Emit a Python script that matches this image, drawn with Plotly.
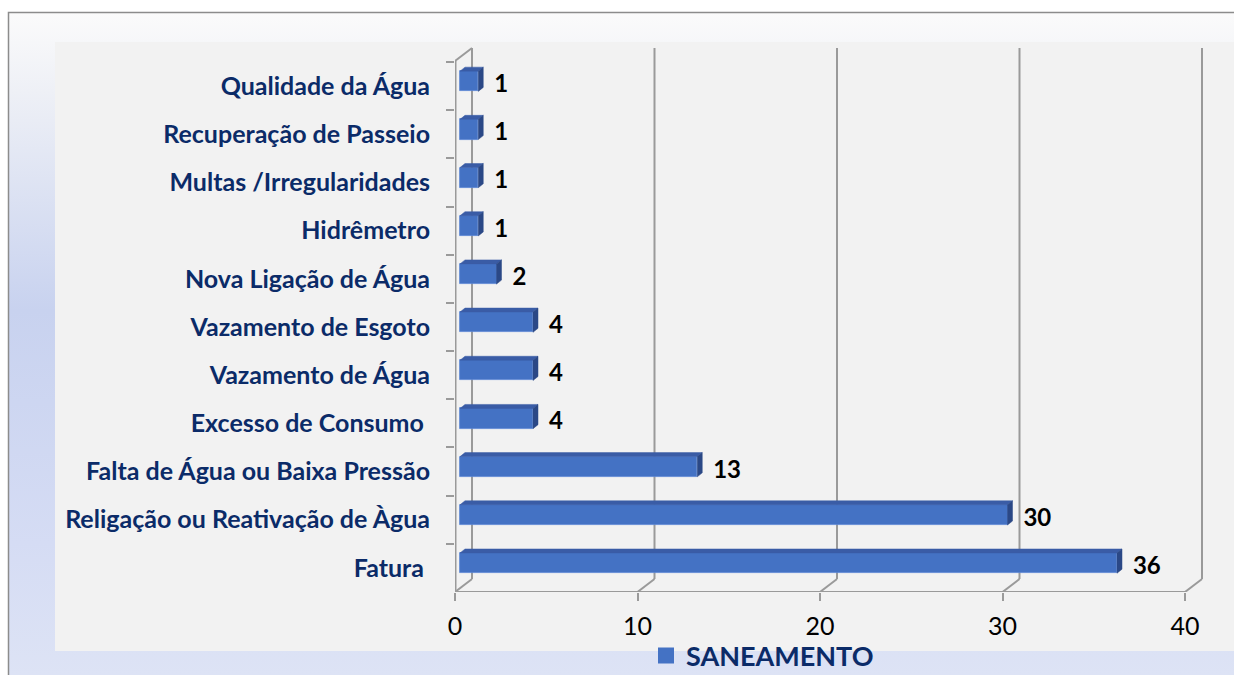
import base64
import plotly.graph_objects as go

# ---- data (top to bottom as in the chart) ----
categories = [
    "Qualidade da Água",
    "Recuperação de Passeio",
    "Multas /Irregularidades",
    "Hidrêmetro",
    "Nova Ligação de Água",
    "Vazamento de Esgoto",
    "Vazamento de Água",
    "Excesso de Consumo\u00a0",
    "Falta de Água ou Baixa Pressão",
    "Religação ou Reativação de Àgua",
    "Fatura\u00a0",
]
values = [1, 1, 1, 1, 2, 4, 4, 4, 13, 30, 36]
series_name = "SANEAMENTO"
x_ticks = [0, 10, 20, 30, 40]

# ---- layout geometry ----
W, H = 1234, 675
ML, MR, MT, MB = 455, 22, 40, 83
PW, PH = W - ML - MR, H - MT - MB
X_RANGE = [0, PW / 18.25]
CAT_PX = 530 / len(categories)
Y_RANGE = [len(categories) - 0.5, -0.5 - 22 / CAT_PX]

# 3D depth of the walls (data units)
DX = 17 / 18.25
DY = 13 / CAT_PX
# bar geometry
BASE = 5 / 18.25
BAR_W = 0.42
BAR_C = -0.1
BDX = 5 / 18.25
BDY = 4 / CAT_PX

NAVY = "#0b2b68"
BLUE = "#4472c4"
TOP = "#3a5ca6"
SIDE = "#2b4886"
GRID = "#9a9a9a"
FONT = "Lato"

fig = go.Figure()

# front faces of bars
fig.add_trace(go.Bar(
    y=categories, x=values, base=BASE, orientation="h",
    offset=BAR_C - BAR_W / 2, width=BAR_W,
    marker=dict(color=BLUE, line=dict(color="#5a86d4", width=0.8)),
    showlegend=False, hoverinfo="skip",
))

# top and side faces (numeric overlay axis y2)
tx, ty, sx, sy = [], [], [], []
for i, v in enumerate(values):
    yc = i + BAR_C
    yt, yb = yc - BAR_W / 2, yc + BAR_W / 2
    x0, x1 = BASE, BASE + v
    tx += [x0, x1, x1 + BDX, x0 + BDX, x0, None]
    ty += [yt, yt, yt - BDY, yt - BDY, yt, None]
    sx += [x1, x1, x1 + BDX, x1 + BDX, x1, None]
    sy += [yt, yb, yb - BDY, yt - BDY, yt, None]
fig.add_trace(go.Scatter(x=tx, y=ty, yaxis="y2", mode="lines", fill="toself",
                         fillcolor=TOP, line=dict(width=0.5, color=TOP),
                         showlegend=False, hoverinfo="skip"))
fig.add_trace(go.Scatter(x=sx, y=sy, yaxis="y2", mode="lines", fill="toself",
                         fillcolor=SIDE, line=dict(width=0.5, color=SIDE),
                         showlegend=False, hoverinfo="skip"))

# data labels
fig.add_trace(go.Scatter(
    x=[BASE + v + BDX + 0.6 for v in values],
    y=[i + BAR_C + 0.1 for i in range(len(values))],
    yaxis="y2", mode="text", text=[str(v) for v in values],
    textposition="middle right",
    textfont=dict(family=FONT, size=24, color="black", weight="bold"),
    showlegend=False, hoverinfo="skip",
))

# legend entry
fig.add_trace(go.Scatter(
    x=[None], y=[None], yaxis="y2", mode="markers", name=series_name,
    marker=dict(symbol="square", size=16, color=BLUE),
))

# ---- walls / gridlines ----
shapes = []
def line(x0, y0, x1, y1, w=2):
    shapes.append(dict(type="line", xref="x", yref="y2", x0=x0, y0=y0, x1=x1, y1=y1,
                       line=dict(color=GRID, width=w), layer="below"))

y_front_bot = len(categories) - 0.5
y_back_bot = y_front_bot - DY
y_front_top = -0.52
y_back_top = y_front_top - DY
# left wall
line(0, y_front_bot, 0, y_front_top, 3)
line(DX, y_back_bot, DX, y_back_top)
line(0, y_front_top, DX, y_back_top)
# floor front edge
line(0, y_front_bot, x_ticks[-1], y_front_bot)
# back wall gridlines + floor diagonals
for t in x_ticks:
    line(t, y_front_bot, t + DX, y_back_bot)
    if t > 0:
        line(t + DX, y_back_bot, t + DX, y_back_top)

# ---- background (gradient frame) ----
svg = f'''<svg xmlns="http://www.w3.org/2000/svg" width="{W}" height="{H}" viewBox="0 0 {W} {H}" preserveAspectRatio="none">
<defs><linearGradient id="g" x1="0" y1="0" x2="0" y2="1">
<stop offset="0" stop-color="#fbfbfb"/>
<stop offset="0.12" stop-color="#eef0f6"/>
<stop offset="0.45" stop-color="#c8d2ef"/>
<stop offset="0.8" stop-color="#d5dcf4"/>
<stop offset="1" stop-color="#dde3f5"/>
</linearGradient></defs>
<rect width="{W}" height="{H}" fill="#ffffff"/>
<rect x="8" y="12" width="{W-8}" height="{H-12}" fill="url(#g)"/>
<rect x="55" y="42" width="{W-55}" height="609" fill="#f2f2f2"/>
<path d="M8.5,{H}V12.5H{W}" stroke="#8c8c8c" stroke-width="1.5" fill="none"/>
</svg>'''
src = "data:image/svg+xml;base64," + base64.b64encode(svg.encode()).decode()

fig.update_layout(
    width=W, height=H,
    margin=dict(l=ML, r=MR, t=MT, b=MB, pad=0, autoexpand=False),
    paper_bgcolor="rgba(0,0,0,0)", plot_bgcolor="rgba(0,0,0,0)",
    images=[dict(source=src, xref="paper", yref="paper",
                 x=-ML / PW, y=1 + MT / PH, sizex=W / PW, sizey=H / PH,
                 xanchor="left", yanchor="top", sizing="stretch", layer="below")],
    shapes=shapes,
    showlegend=True,
    legend=dict(orientation="h", xref="container", yref="container",
                x=646 / W, y=1 - 656 / H,
                xanchor="left", yanchor="middle", bgcolor="rgba(0,0,0,0)",
                font=dict(family=FONT, size=27, color=NAVY, weight="bold")),
    xaxis=dict(range=X_RANGE, tickvals=x_ticks, ticks="outside", ticklen=8,
               tickwidth=2, tickcolor=GRID, showgrid=False, zeroline=False,
               showline=False, ticklabelstandoff=4, automargin=False,
               tickfont=dict(family=FONT, size=25, color="black")),
    yaxis=dict(type="category", categoryorder="array", categoryarray=categories,
               range=Y_RANGE, tickson="boundaries", ticks="outside", ticklen=8,
               tickwidth=2, tickcolor=GRID, showgrid=False, zeroline=False,
               showline=False, ticklabelstandoff=24, automargin=False,
               tickfont=dict(family=FONT, size=25, color=NAVY, weight="bold")),
    yaxis2=dict(overlaying="y", range=Y_RANGE, visible=False, showgrid=False),
    bargap=0,
)

fig.write_html("out.html", config={"displayModeBar": False},
               post_script="document.body.style.margin='0';"
                           "document.body.style.overflow='hidden';")
